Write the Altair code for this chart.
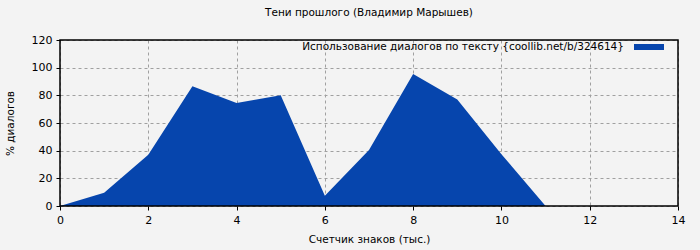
import altair as alt
import pandas as pd

x_vals = [0, 1, 2, 3, 4, 5, 6, 7, 8, 9, 10, 11]
y_vals = [0, 9.5, 37, 86.5, 74.5, 80, 7.5, 40.5, 95.5, 77, 37.5, 0]
x_ticks = [0, 2, 4, 6, 8, 10, 12, 14]
y_ticks = [0, 20, 40, 60, 80, 100, 120]
title_text = "Тени прошлого (Владимир Марышев)"
legend_text = "Использование диалогов по тексту {coollib.net/b/324614}"
x_title = "Счетчик знаков (тыс.)"
y_title = "% диалогов"

df = pd.DataFrame({"x": x_vals, "y": y_vals})
FONT = "DejaVu Sans"
BLUE = "#0645ad"

xs = alt.X("x:Q", scale=alt.Scale(domain=[0, 14], nice=False),
           axis=alt.Axis(values=x_ticks, title=x_title, grid=True, gridDash=[3, 3],
                         gridColor="#a0a0a0", domain=False, tickColor="black",
                         tickSize=4, labelFont=FONT, labelFontSize=11, labelColor="black",
                         titleFont=FONT, titleFontSize=10.5, titleFontWeight="normal",
                         titleColor="black", titlePadding=9, labelPadding=4,
                         labelFlush=False))
ys = alt.Y("y:Q", scale=alt.Scale(domain=[0, 120], nice=False),
           axis=alt.Axis(values=y_ticks, title=y_title, grid=True, gridDash=[3, 3],
                         gridColor="#a0a0a0", domain=False, tickColor="black",
                         tickSize=4, labelFont=FONT, labelFontSize=11, labelColor="black",
                         titleFont=FONT, titleFontSize=10.5, titleFontWeight="normal",
                         titleColor="black", titlePadding=16, labelPadding=4))

area = alt.Chart(df).mark_area(color=BLUE, opacity=1, interpolate="linear").encode(x=xs, y=ys)

leg_text = alt.Chart(pd.DataFrame({"t": [legend_text]})).mark_text(
    align="right", baseline="middle", font=FONT, fontSize=10.5, color="black"
).encode(text="t:N", x=alt.value(564), y=alt.value(7))

leg_swatch = alt.Chart(pd.DataFrame({"t": [legend_text]})).mark_rect(color=BLUE).encode(
    x=alt.value(574), x2=alt.value(604), y=alt.value(4), y2=alt.value(10))

frame = alt.Chart(pd.DataFrame({"t": [0]})).mark_rect(
    fill=None, stroke="black", strokeWidth=1.5
).encode(x=alt.value(0), x2=alt.value(618), y=alt.value(0), y2=alt.value(166))

chart = alt.layer(area, frame, leg_text, leg_swatch).properties(
    width=618, height=166,
    title=alt.TitleParams(title_text, font=FONT, fontSize=10.5, fontWeight="normal",
                          color="black", anchor="middle", offset=16),
    background="#f3f3f3",
    autosize=alt.AutoSizeParams(type="none"),
    padding={"left": 60, "top": 40, "right": 22, "bottom": 44},
).configure_view(stroke=None)

chart.save("out.html", embed_options={"renderer": "svg", "actions": False})
